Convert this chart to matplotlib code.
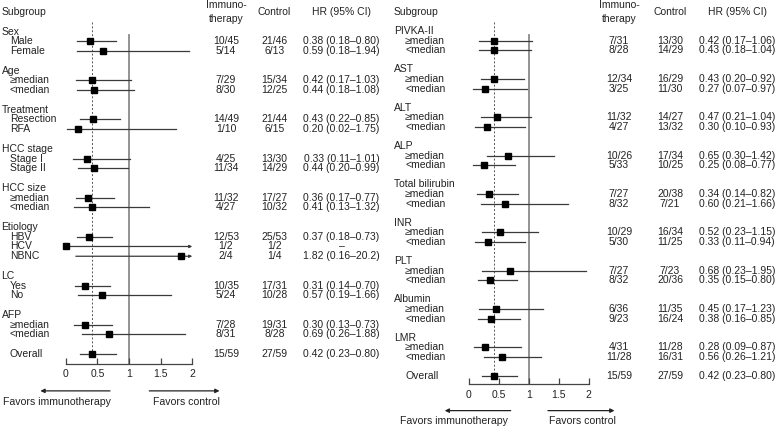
import numpy as np
import matplotlib.pyplot as plt
from matplotlib import transforms

plt.rcParams['font.family'] = ['Liberation Sans', 'DejaVu Sans']
plt.rcParams['font.size'] = 7.5

W, H = 778, 429

## Left panel data
left_groups = ["Sex", "Age", "Treatment", "HCC stage", "HCC size", "Etiology", "LC", "AFP"]
left_subs = [["Male", "Female"], ["≥median", "<median"], ["Resection", "RFA"],
             ["Stage I", "Stage II"], ["≥median", "<median"], ["HBV", "HCV", "NBNC"],
             ["Yes", "No"], ["≥median", "<median"]]
left_immuno = [["10/45", "5/14"], ["7/29", "8/30"], ["14/49", "1/10"], ["4/25", "11/34"],
               ["11/32", "4/27"], ["12/53", "1/2", "2/4"], ["10/35", "5/24"], ["7/28", "8/31"]]
left_control = [["21/46", "6/13"], ["15/34", "12/25"], ["21/44", "6/15"], ["13/30", "14/29"],
                ["17/27", "10/32"], ["25/53", "1/2", "1/4"], ["17/31", "10/28"], ["19/31", "8/28"]]
left_hr = [[0.38, 0.59], [0.42, 0.44], [0.43, 0.20], [0.33, 0.44],
           [0.36, 0.41], [0.37, np.nan, 1.82], [0.31, 0.57], [0.30, 0.69]]
left_lo = [[0.18, 0.18], [0.17, 0.18], [0.22, 0.02], [0.11, 0.20],
           [0.17, 0.13], [0.18, 0.0, 0.16], [0.14, 0.19], [0.13, 0.26]]
left_hi = [[0.80, 1.94], [1.03, 1.08], [0.85, 1.75], [1.01, 0.99],
           [0.77, 1.32], [0.73, np.inf, 20.2], [0.70, 1.66], [0.73, 1.88]]

## Right panel data
right_groups = ["PIVKA-II", "AST", "ALT", "ALP", "Total bilirubin", "INR", "PLT", "Albumin", "LMR"]
right_subs = [["≥median", "<median"]] * len(right_groups)
right_immuno = [["7/31", "8/28"], ["12/34", "3/25"], ["11/32", "4/27"], ["10/26", "5/33"],
                ["7/27", "8/32"], ["10/29", "5/30"], ["7/27", "8/32"], ["6/36", "9/23"],
                ["4/31", "11/28"]]
right_control = [["13/30", "14/29"], ["16/29", "11/30"], ["14/27", "13/32"], ["17/34", "10/25"],
                 ["20/38", "7/21"], ["16/34", "11/25"], ["7/23", "20/36"], ["11/35", "16/24"],
                 ["11/28", "16/31"]]
right_hr = [[0.42, 0.43], [0.43, 0.27], [0.47, 0.30], [0.65, 0.25], [0.34, 0.60],
            [0.52, 0.33], [0.68, 0.35], [0.45, 0.38], [0.28, 0.56]]
right_lo = [[0.17, 0.18], [0.20, 0.07], [0.21, 0.10], [0.30, 0.08], [0.14, 0.21],
            [0.23, 0.11], [0.23, 0.15], [0.17, 0.16], [0.09, 0.26]]
right_hi = [[1.06, 1.04], [0.92, 0.97], [1.04, 0.93], [1.42, 0.77], [0.82, 1.66],
            [1.15, 0.94], [1.95, 0.80], [1.23, 0.85], [0.87, 1.21]]

## Overall (same in both panels)
overall_immuno = "15/59"
overall_control = "27/59"
overall_hr, overall_lo, overall_hi = 0.42, 0.23, 0.80

xticks = [0, 0.5, 1, 1.5, 2]

TXT = '#222222'
LINE = '#3a3a3a'


def fmt(v):
    return f"{v:.2f}" if v < 10 else f"{v:.1f}"


def hr_text(hr, lo, hi):
    if not np.isfinite(hr):
        return "–"
    return f"{fmt(hr)} ({fmt(lo)}–{fmt(hi)})"


def draw_ci(ax, r, hr, lo, hi):
    if hi > 2:
        ax.annotate('', xy=(2.0, r), xytext=(lo, r), annotation_clip=False,
                    arrowprops=dict(arrowstyle='-|>', mutation_scale=4, lw=0.9,
                                    color=LINE, shrinkA=0, shrinkB=0))
    else:
        ax.plot([lo, hi], [r, r], color=LINE, lw=0.9, clip_on=False)
    x = hr if np.isfinite(hr) else lo
    ax.plot(x, r, 's', color='black', ms=4.2, clip_on=False, zorder=5)


def draw_panel(fig, g, groups, subs, immuno, control, hr, lo, hi):
    # axes placed so that HR 0..2 and rows land where they are in the reference
    top_px = g['row0'] - g['step']
    bot_px = g['row0'] + g['axis_row'] * g['step']
    ax = fig.add_axes([g['x0'] / W, 1 - bot_px / H,
                       (g['x2'] - g['x0']) / W, (bot_px - top_px) / H])
    ax.set_xlim(0, 2)
    ax.set_ylim(g['axis_row'], -1)
    for s in ['top', 'left', 'right']:
        ax.spines[s].set_visible(False)
    ax.spines['bottom'].set_color('#444444')
    ax.spines['bottom'].set_linewidth(0.9)
    ax.set_yticks([])
    ax.set_xticks(xticks)
    ax.set_xticklabels([f"{t:g}" for t in xticks])
    ax.tick_params(axis='x', direction='in', length=4, width=0.9, color='#444444',
                   pad=3.8, labelsize=7.5, labelcolor=TXT)
    ax.patch.set_visible(False)

    tr = transforms.blended_transform_factory(fig.transFigure, ax.transData)
    cx = lambda px: px / W

    # headers
    ax.text(cx(g['grp']), 0, "Subgroup", transform=tr, ha='left', va='center', color=TXT)
    ax.text(cx(g['imm']), -0.72, "Immuno-", transform=tr, ha='center', va='center', color=TXT)
    ax.text(cx(g['imm']), 0.75, "therapy", transform=tr, ha='center', va='center', color=TXT)
    ax.text(cx(g['ctl']), 0, "Control", transform=tr, ha='center', va='center', color=TXT)
    ax.text(cx(g['hrx']), 0, "HR (95% CI)", transform=tr, ha='center', va='center', color=TXT)

    row = 2
    for gi, name in enumerate(groups):
        ax.text(cx(g['grp']), row, name, transform=tr, ha='left', va='center', color=TXT)
        for k, lab in enumerate(subs[gi]):
            r = row + 1 + k
            ax.text(cx(g['sub']), r, lab, transform=tr, ha='left', va='center', color=TXT)
            ax.text(cx(g['imm']), r, immuno[gi][k], transform=tr, ha='center', va='center', color=TXT)
            ax.text(cx(g['ctl']), r, control[gi][k], transform=tr, ha='center', va='center', color=TXT)
            ax.text(cx(g['hrx']), r, hr_text(hr[gi][k], lo[gi][k], hi[gi][k]),
                    transform=tr, ha='center', va='center', color=TXT)
            draw_ci(ax, r, hr[gi][k], lo[gi][k], hi[gi][k])
        row += len(subs[gi]) + 2

    # overall row
    ax.text(cx(g['sub']), row, "Overall", transform=tr, ha='left', va='center', color=TXT)
    ax.text(cx(g['imm']), row, overall_immuno, transform=tr, ha='center', va='center', color=TXT)
    ax.text(cx(g['ctl']), row, overall_control, transform=tr, ha='center', va='center', color=TXT)
    ax.text(cx(g['hrx']), row, hr_text(overall_hr, overall_lo, overall_hi),
            transform=tr, ha='center', va='center', color=TXT)
    draw_ci(ax, row, overall_hr, overall_lo, overall_hi)

    # reference lines
    ax.plot([1, 1], [2.35, g['axis_row']], color='#8a8a8a', lw=1.3, clip_on=False, zorder=1)
    ax.plot([overall_hr, overall_hr], [1.0, row + 0.3], color='#555555', lw=0.7,
            ls=(0, (2, 2)), clip_on=False, zorder=1)

    # favors arrows
    ya = g['axis_row'] + 2.75
    yt = g['axis_row'] + 3.85
    ax.annotate('', xy=(-0.4, ya), xytext=(0.7, ya), annotation_clip=False,
                arrowprops=dict(arrowstyle='-|>', mutation_scale=6, lw=0.9,
                                color='#222222', shrinkA=0, shrinkB=0))
    ax.annotate('', xy=(2.43, ya), xytext=(1.32, ya), annotation_clip=False,
                arrowprops=dict(arrowstyle='-|>', mutation_scale=6, lw=0.9,
                                color='#222222', shrinkA=0, shrinkB=0))
    ax.text(g['fav_l'], yt, "Favors immunotherapy", ha='center', va='center', color=TXT, fontsize=7.6)
    ax.text(1.9, yt, "Favors control", ha='center', va='center', color=TXT, fontsize=7.6)
    return ax


fig = plt.figure(figsize=(W / 100, H / 100), dpi=100)

left_geom = dict(x0=65.7, x2=192.3, row0=12, step=9.77, axis_row=36.03,
                 grp=1.5, sub=10, imm=226, ctl=274.5, hrx=341.5, fav_l=-0.14)
right_geom = dict(x0=468.7, x2=588.7, row0=12, step=9.58, axis_row=38.86,
                  grp=394, sub=405, imm=619, ctl=670, hrx=737, fav_l=-0.24)

draw_panel(fig, left_geom, left_groups, left_subs, left_immuno, left_control,
           left_hr, left_lo, left_hi)
draw_panel(fig, right_geom, right_groups, right_subs, right_immuno, right_control,
           right_hr, right_lo, right_hi)

fig.savefig("out.png", dpi=100)
